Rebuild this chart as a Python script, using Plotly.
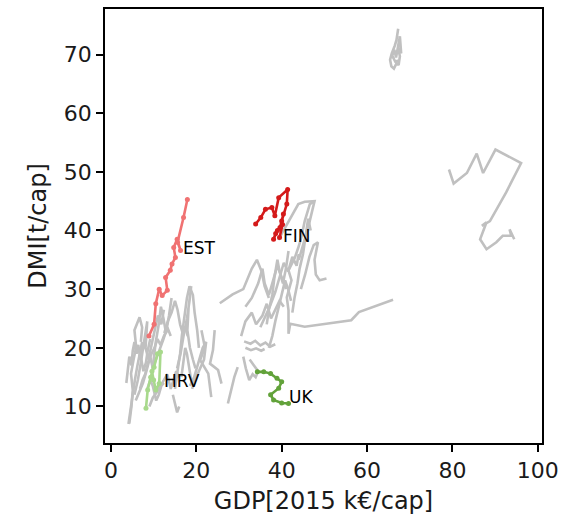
import plotly.graph_objects as go

# ---- highlighted countries (GDP k€/cap, DMI t/cap) ----
est_gdp = [8.9, 10.1, 10.5, 11.3, 12.0, 13.2, 12.8, 13.9, 14.3, 15.1, 14.7, 15.5, 16.3, 15.6, 17.0, 17.9]
est_dmi = [22.0, 24.0, 27.5, 30.0, 28.9, 29.8, 32.0, 33.2, 34.3, 35.4, 37.1, 38.5, 36.6, 38.0, 42.2, 45.3]

fin_gdp = [33.9, 35.1, 36.2, 37.7, 38.4, 39.3, 41.4, 41.2, 40.0, 40.4, 39.6, 38.6, 38.1, 39.0, 40.2, 39.5]
fin_dmi = [41.1, 42.2, 43.6, 43.9, 42.5, 45.6, 47.0, 44.5, 41.6, 42.8, 40.5, 39.5, 38.5, 40.0, 41.0, 38.8]

hrv_gdp = [8.2, 8.6, 9.3, 10.1, 10.9, 11.6, 11.3, 10.5, 10.0, 9.6]
hrv_dmi = [9.7, 12.8, 15.0, 16.7, 19.0, 19.3, 13.9, 12.8, 14.5, 16.0]

uk_gdp = [34.3, 35.8, 37.4, 38.9, 40.0, 39.3, 37.4, 38.1, 40.0, 41.6]
uk_dmi = [15.9, 15.9, 15.6, 14.8, 14.2, 13.1, 12.0, 11.1, 10.6, 10.5]

labels = ["EST", "FIN", "HRV", "UK"]
label_gdp = [16.5, 39.8, 11.9, 41.3]
label_dmi = [37.0, 39.1, 14.3, 11.6]

# ---- other countries (grey) ----
grey_series = {
    "ROU": ([4.1, 4.6, 5.0, 5.6, 6.2, 6.8, 7.3, 7.0, 7.6, 8.2, 8.6, 9.2],
            [7.0, 9.5, 12.0, 14.5, 17.0, 19.5, 21.0, 18.5, 16.0, 17.5, 19.5, 21.5]),
    "BGR": ([3.6, 3.9, 4.3, 4.8, 5.1, 5.5, 6.0, 6.4, 6.9, 7.2],
            [14.0, 16.5, 18.5, 17.0, 19.5, 21.0, 19.0, 20.5, 18.0, 19.0]),
    "MKD": ([4.3, 4.8, 5.1, 4.7, 5.3, 5.9, 5.5, 6.7, 7.3, 7.0],
            [7.1, 10.0, 12.8, 15.6, 18.0, 20.1, 23.0, 25.2, 23.5, 21.0]),
    "LVA": ([5.5, 6.3, 7.0, 7.8, 8.5, 8.1, 8.8, 9.5, 10.3, 11.0, 11.8, 12.4],
            [12.0, 14.5, 17.5, 21.0, 24.5, 20.0, 18.0, 20.5, 23.0, 25.5, 24.0, 26.5]),
    "LTU": ([5.8, 6.6, 7.5, 8.3, 9.2, 9.8, 10.6, 11.5, 12.3, 13.2, 14.0],
            [11.0, 12.5, 14.0, 16.0, 18.5, 16.5, 18.0, 20.0, 21.5, 23.5, 22.0]),
    "POL": ([6.8, 7.4, 8.0, 8.7, 9.5, 10.2, 10.9, 11.6, 12.4, 13.2],
            [13.0, 14.5, 15.5, 17.5, 19.0, 20.0, 21.5, 20.5, 22.0, 23.0]),
    "MNE": ([9.5, 10.0, 10.5, 11.2, 11.7, 12.3, 12.9, 13.6, 14.2],
            [15.0, 18.0, 21.0, 24.0, 27.0, 25.0, 22.5, 25.5, 28.5]),
    "SVK": ([9.0, 9.8, 10.8, 12.0, 13.2, 14.0, 14.6, 15.3, 16.0],
            [10.0, 11.5, 12.5, 14.0, 15.5, 13.0, 14.5, 16.0, 15.0]),
    "CZE": ([12.5, 13.3, 14.2, 15.0, 15.6, 16.2, 16.8, 17.4, 18.0],
            [22.5, 24.5, 26.0, 28.0, 26.5, 24.0, 22.5, 23.5, 22.0]),
    "HUN": ([8.5, 9.2, 9.8, 10.2, 10.6, 11.2, 11.8, 12.4],
            [13.0, 14.5, 13.5, 12.0, 11.0, 12.0, 13.5, 14.0]),
    "SVN": ([15.5, 16.3, 17.0, 17.8, 18.4, 18.8, 18.2, 17.9, 18.5, 19.2, 19.8],
            [16.5, 19.0, 22.0, 25.0, 28.0, 30.5, 27.0, 23.0, 20.0, 18.0, 16.5]),
    "TUR": ([15.0, 15.6, 16.2, 16.6, 17.2, 17.8, 18.4, 19.2, 19.6, 20.2, 20.6],
            [13.0, 16.0, 19.0, 22.0, 25.5, 28.5, 30.5, 29.0, 26.0, 23.0, 20.0]),
    "PRT": ([16.5, 17.0, 17.4, 17.8, 18.2, 18.6, 18.9],
            [15.0, 17.5, 20.0, 19.0, 17.0, 15.5, 14.0]),
    "GRC": ([18.5, 19.5, 20.5, 21.5, 22.3, 21.8, 20.6, 19.8, 19.0],
            [13.5, 15.0, 17.5, 20.0, 21.0, 18.0, 16.0, 14.5, 13.0]),
    "MLT": ([14.5, 15.0, 15.5, 16.0],
            [12.0, 10.5, 9.0, 10.0]),
    "ESP": ([21.2, 22.0, 20.9, 22.8, 23.5],
            [23.0, 20.1, 17.9, 15.6, 11.6]),
    "ITA": ([24.3, 23.9, 23.2, 25.1, 25.9],
            [23.0, 19.6, 17.3, 16.2, 13.9]),
    "CYP": ([29.7, 28.9, 27.4],
            [16.7, 15.0, 10.5]),
    "IRL": ([47.7, 46.6, 45.4, 44.6, 43.9, 43.1, 41.6, 42.3, 41.2, 41.6, 41.6, 42.0, 45.4, 56.3, 58.1, 66.1],
            [45.0, 44.5, 41.6, 38.8, 37.1, 35.4, 33.2, 31.5, 28.6, 26.4, 22.4, 24.1, 23.6, 24.7, 26.1, 28.2]),
    "SWE": ([39.2, 43.9, 45.4, 47.7, 46.2, 45.0, 44.0],
            [38.4, 44.5, 44.9, 45.0, 40.5, 37.5, 35.0]),
    "DNK": ([31.5, 33.0, 34.5, 35.5, 36.0, 37.0, 38.0, 39.0, 40.0, 41.0],
            [27.0, 28.5, 31.0, 33.5, 31.0, 29.0, 31.5, 34.0, 32.0, 30.0]),
    "AUT": ([35.0, 36.0, 37.2, 38.5, 39.5, 40.5, 41.5, 42.5, 43.5, 44.0],
            [23.5, 25.0, 27.0, 29.5, 32.0, 34.5, 33.0, 35.5, 34.0, 36.0]),
    "NLD": ([44.5, 45.5, 46.5, 47.5, 48.5, 47.7, 48.0, 48.9, 50.5],
            [30.0, 32.5, 35.5, 37.5, 38.0, 35.0, 32.5, 31.5, 31.8]),
    "BEL": ([25.5, 28.5, 31.0, 32.0, 33.0, 34.2, 35.3, 36.0, 37.0],
            [27.6, 29.1, 30.0, 31.8, 33.5, 35.0, 33.0, 30.5, 28.5]),
    "DEU": ([30.5, 31.5, 33.0, 34.0, 35.5, 36.5, 37.5, 38.5, 39.5, 40.5],
            [22.0, 24.5, 26.0, 24.0, 25.5, 27.5, 25.0, 26.5, 28.0, 27.0]),
    "FRA": ([37.0, 37.8, 38.5, 39.3, 40.0, 40.8, 41.5, 42.2],
            [20.0, 22.0, 24.5, 27.0, 29.5, 31.5, 30.0, 28.0]),
    "CHE2": ([36.5, 37.0, 37.8, 38.3, 39.0, 39.5, 40.3, 41.0, 41.6],
             [24.0, 26.5, 29.0, 32.0, 35.0, 33.0, 31.0, 33.5, 36.5]),
    "DNK2": ([42.5, 43.0, 43.7, 44.2, 45.0, 45.6, 46.2, 46.8],
             [26.0, 28.5, 31.0, 33.5, 36.0, 39.0, 42.0, 40.0]),
    "ISL": ([31.2, 32.7, 33.8, 35.0, 36.2, 37.3, 38.5],
            [21.1, 20.7, 21.2, 20.4, 20.9, 20.2, 20.6]),
    "CHE": ([31.5, 32.8, 34.0, 35.2, 36.0],
            [20.0, 19.6, 19.9, 19.5, 19.8]),
    "SRB": ([31.0, 31.6, 32.4, 33.2, 33.9, 34.5, 33.5, 32.5],
            [18.5, 16.5, 14.5, 15.5, 15.0, 16.0, 17.0, 18.0]),
    "LUX": ([79.2, 80.3, 83.4, 85.7, 87.2, 90.1, 96.1, 92.6, 88.8, 86.9, 88.0, 86.5, 88.0, 90.3, 91.8, 93.8, 93.4, 94.5],
            [50.4, 48.0, 49.8, 53.1, 49.8, 53.8, 51.5, 46.5, 41.6, 40.8, 41.4, 38.5, 36.8, 38.0, 39.1, 39.1, 40.2, 38.5]),
    "NOR": ([67.3, 66.9, 66.5, 65.8, 65.4, 65.7, 66.3, 66.9, 67.4, 67.7, 67.3, 68.0, 67.7, 67.2, 66.8, 66.4, 65.9, 66.6, 67.5],
            [74.4, 72.5, 71.5, 70.2, 69.1, 68.0, 67.6, 68.5, 68.2, 69.7, 71.1, 70.2, 73.1, 71.0, 69.5, 70.8, 69.8, 68.8, 69.0]),
}

fig = go.Figure()
for name, (gx, gy) in grey_series.items():
    fig.add_trace(go.Scatter(x=gx, y=gy, mode="lines", name=name,
                             line=dict(color="#c0c0c0", width=2.6),
                             hoverinfo="name", showlegend=False))

highlight = [
    ("EST", est_gdp, est_dmi, "#f07272"),
    ("FIN", fin_gdp, fin_dmi, "#d41a1a"),
    ("HRV", hrv_gdp, hrv_dmi, "#a8d98c"),
    ("UK", uk_gdp, uk_dmi, "#62a23a"),
]
for name, hx, hy, col in highlight:
    fig.add_trace(go.Scatter(x=hx, y=hy, mode="lines+markers", name=name,
                             line=dict(color=col, width=2.6),
                             marker=dict(color=col, size=5),
                             showlegend=False))

for t, lx, ly in zip(labels, label_gdp, label_dmi):
    fig.add_annotation(x=lx, y=ly, text=t, showarrow=False,
                       xanchor="left", yanchor="middle",
                       font=dict(family="DejaVu Sans", size=17, color="black"))

axis_common = dict(showline=True, linecolor="black", linewidth=1.5, mirror=True,
                   ticks="outside", ticklen=7, tickwidth=1.5, tickcolor="black",
                   showgrid=False, zeroline=False,
                   tickfont=dict(family="DejaVu Sans", size=22, color="#1a1a1a"))

fig.update_layout(
    width=566, height=521,
    margin=dict(l=105, r=19, t=7, b=78),
    paper_bgcolor="white", plot_bgcolor="white",
    font=dict(family="DejaVu Sans", color="#1a1a1a"),
    xaxis=dict(range=[-1.4, 101], tickvals=[0, 20, 40, 60, 80, 100],
               title=dict(text="GDP[2015 k€/cap]", font=dict(size=24), standoff=10),
               **axis_common),
    yaxis=dict(range=[3.77, 77.76], tickvals=[10, 20, 30, 40, 50, 60, 70],
               title=dict(text="DMI[t/cap]", font=dict(size=24), standoff=10),
               **axis_common),
)

fig.write_html("out.html")
